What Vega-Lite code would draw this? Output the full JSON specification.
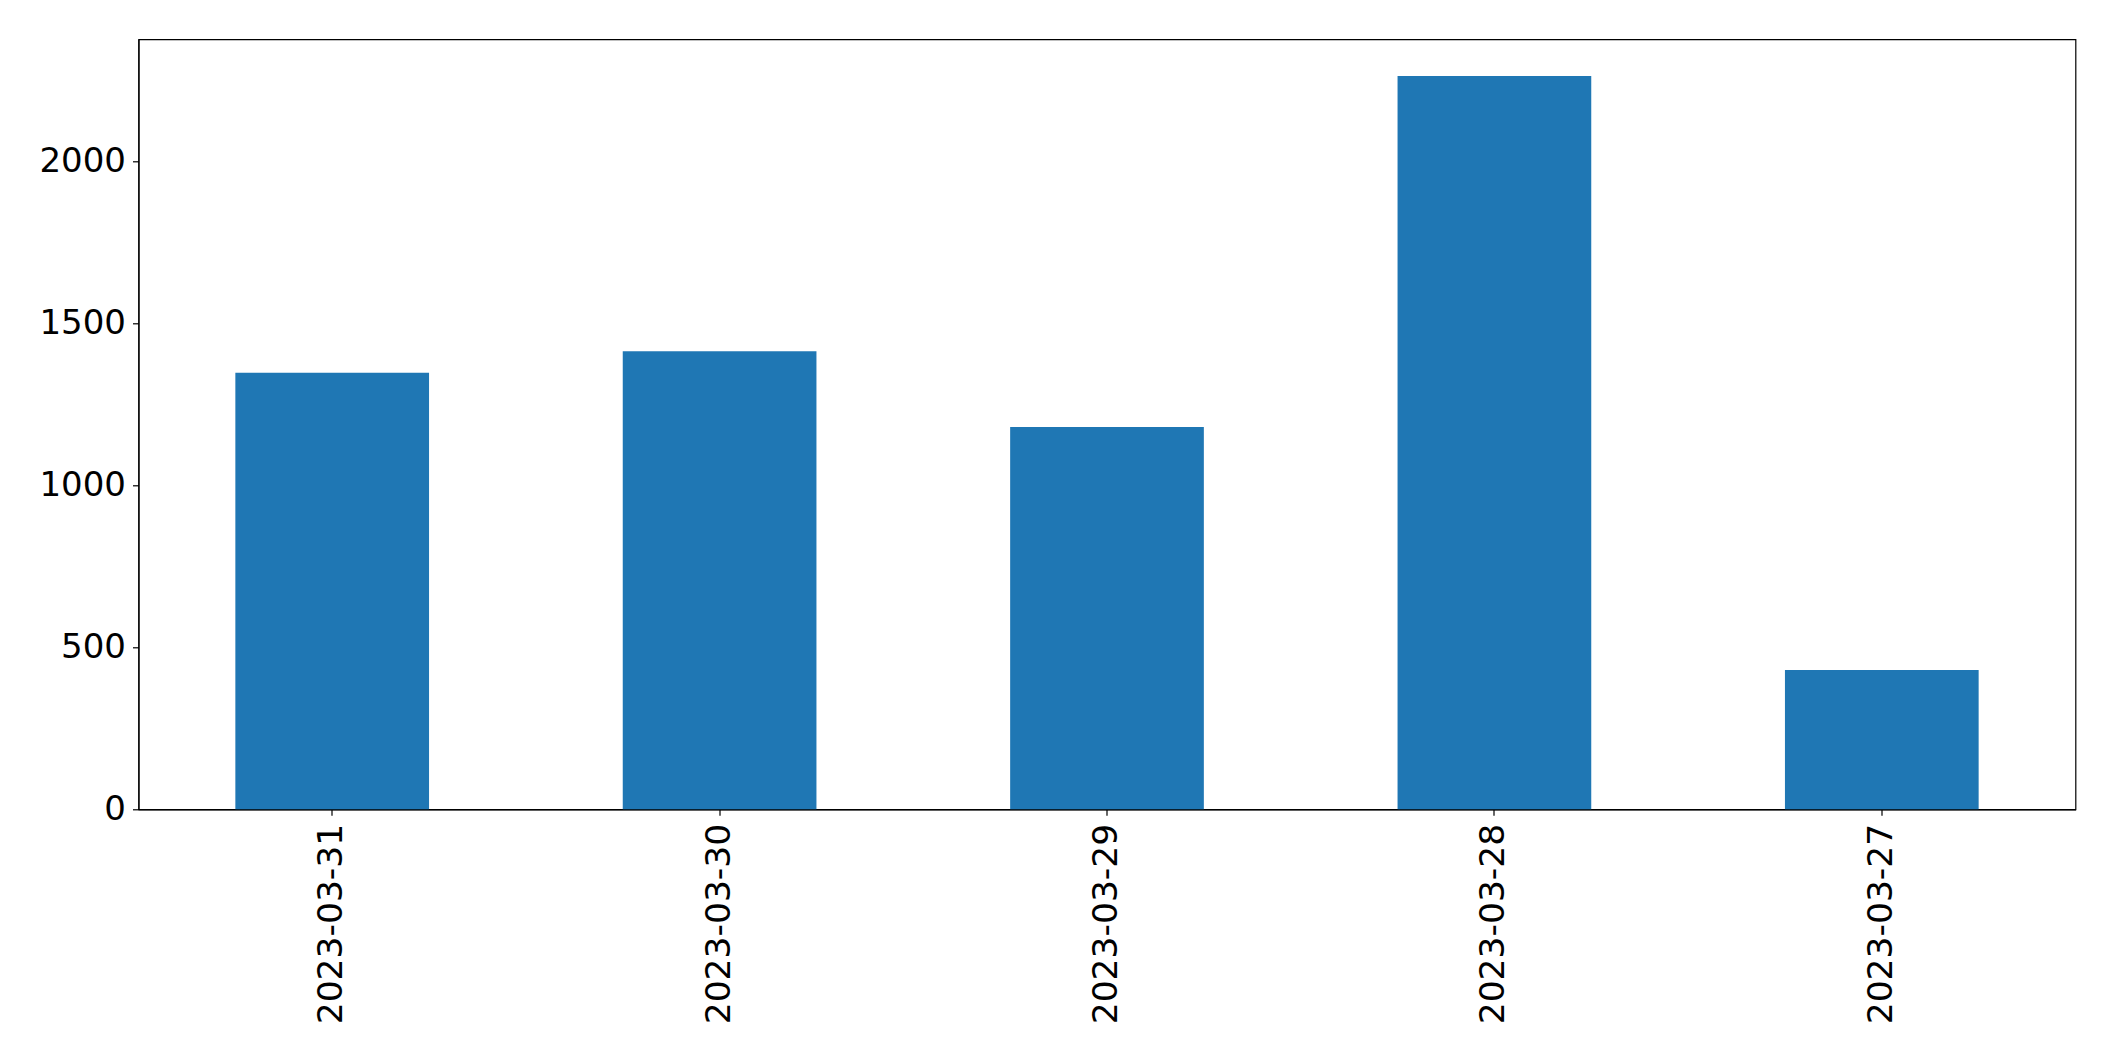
{
  "$schema": "https://vega.github.io/schema/vega-lite/v6.json",
  "autosize": {"type": "none"},
  "width": 1937,
  "height": 770,
  "padding": {"left": 138.5, "top": 39.3, "right": 39.5, "bottom": 251.7},
  "background": "white",
  "config": {
    "view": {"stroke": "black", "strokeWidth": 1.2},
    "font": "DejaVu Sans",
    "axis": {
      "labelFont": "DejaVu Sans",
      "labelFontSize": 34,
      "labelColor": "black",
      "labelLimit": 0,
      "domainColor": "black",
      "domainWidth": 1.2,
      "tickColor": "black",
      "tickWidth": 1.2,
      "tickSize": 6,
      "grid": false,
      "title": null
    }
  },
  "data": {
    "values": [
      {"date": "2023-03-31", "count": 1347},
      {"date": "2023-03-30", "count": 1414},
      {"date": "2023-03-29", "count": 1180},
      {"date": "2023-03-28", "count": 2263},
      {"date": "2023-03-27", "count": 430}
    ]
  },
  "mark": {"type": "bar", "color": "#1f77b4"},
  "encoding": {
    "x": {
      "field": "date",
      "type": "nominal",
      "sort": null,
      "scale": {"paddingInner": 0.5, "paddingOuter": 0.25},
      "axis": {"labelAngle": -90, "labelPadding": 8, "labelBaseline": "middle", "labelAlign": "right", "labelLimit": 0, "labelFontSize": 34.5}
    },
    "y": {
      "field": "count",
      "type": "quantitative",
      "scale": {"domain": [0, 2376.5], "nice": false, "zero": true},
      "axis": {"values": [0, 500, 1000, 1500, 2000], "format": "d", "labelPadding": 7}
    }
  }
}
